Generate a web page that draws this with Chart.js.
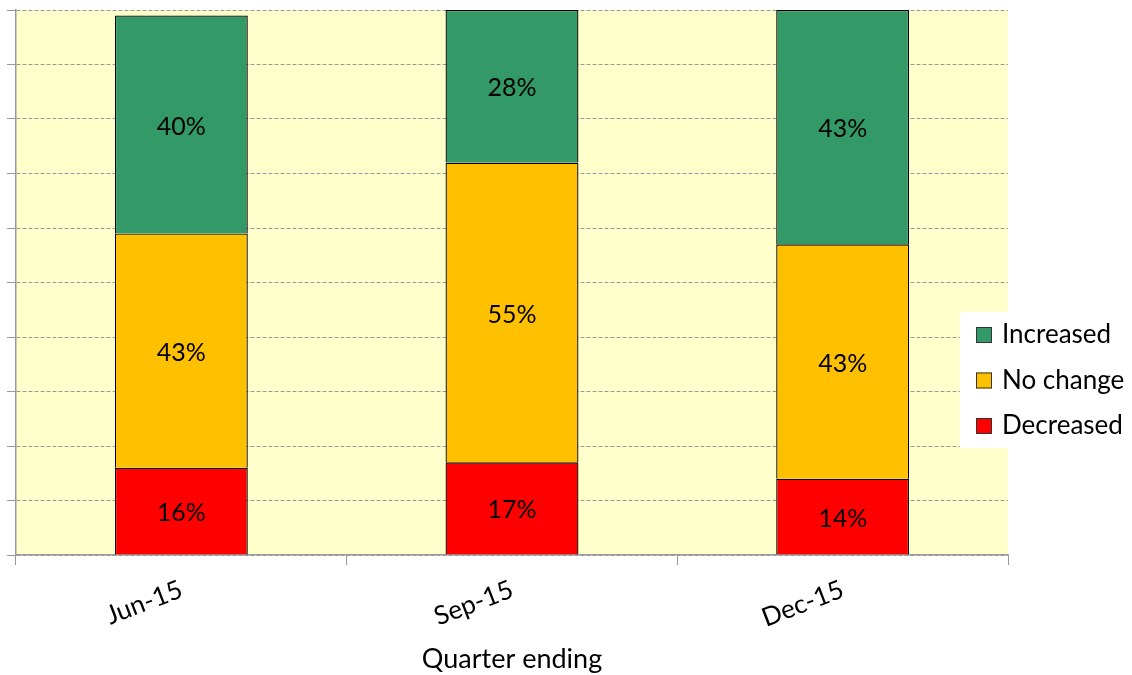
<!DOCTYPE html>
<html><head><meta charset="utf-8">
<script src="https://cdn.jsdelivr.net/npm/chart.js@4.4.1/dist/chart.umd.min.js"></script>
<style>html,body{margin:0;padding:0;background:#fff;}#wrap{width:1132px;height:675px;position:relative;}</style>
</head><body><div id="wrap"><canvas id="c" width="1132" height="675"></canvas></div>
<script>
const categories = ['Jun-15', 'Sep-15', 'Dec-15'];
const decreased = [16, 17, 14];
const noChange = [43, 55, 43];
const increased = [40, 28, 43];
const seriesNames = ['Decreased', 'No change', 'Increased'];
const seriesColors = ['#FF0000', '#FFC000', '#339966'];
const xTitle = 'Quarter ending';
const FONT = 'Lato';

const plotBg = {
  id: 'plotBg',
  beforeDraw(chart) {
    const {ctx, chartArea: a} = chart;
    ctx.save();
    ctx.fillStyle = '#FFFFCC';
    ctx.fillRect(a.left, a.top, a.right - a.left, a.bottom - a.top);
    ctx.restore();
  }
};

const segLabels = {
  id: 'segLabels',
  afterDatasetsDraw(chart) {
    const ctx = chart.ctx;
    ctx.save();
    ctx.font = '25px ' + FONT;
    ctx.fillStyle = '#000';
    ctx.textAlign = 'center';
    ctx.textBaseline = 'middle';
    chart.data.datasets.forEach((ds, di) => {
      const meta = chart.getDatasetMeta(di);
      meta.data.forEach((el, i) => {
        const p = el.getProps(['x', 'y', 'base'], true);
        ctx.fillText(ds.data[i] + '%', p.x, (p.y + p.base) / 2 + 2);
      });
    });
    ctx.restore();
  }
};

const boxLegend = {
  id: 'boxLegend',
  afterDraw(chart) {
    const ctx = chart.ctx;
    const x0 = chart.width - 172, y0 = 312;
    ctx.save();
    ctx.fillStyle = '#fff';
    ctx.fillRect(x0, y0, 172, 136);
    ctx.font = '26px ' + FONT;
    ctx.textBaseline = 'middle';
    ctx.textAlign = 'left';
    const n = chart.data.datasets.length;
    for (let k = 0; k < n; k++) {
      const di = n - 1 - k;
      const ds = chart.data.datasets[di];
      const cy = y0 + 23 + k * 45.5;
      ctx.fillStyle = ds.backgroundColor;
      ctx.fillRect(x0 + 16, cy - 8, 16, 16);
      ctx.strokeStyle = '#333';
      ctx.lineWidth = 1;
      ctx.strokeRect(x0 + 16.5, cy - 7.5, 15, 15);
      ctx.fillStyle = '#000';
      ctx.fillText(ds.label, x0 + 42, cy);
    }
    ctx.restore();
  }
};

const seriesData = [decreased, noChange, increased];
new Chart(document.getElementById('c'), {
  type: 'bar',
  data: {
    labels: categories,
    datasets: seriesData.map((d, i) => ({
      label: seriesNames[i],
      data: d,
      backgroundColor: seriesColors[i],
      borderColor: '#000',
      borderWidth: 1.3,
      categoryPercentage: 1,
      barPercentage: 0.402
    }))
  },
  options: {
    responsive: false,
    animation: false,
    devicePixelRatio: 1,
    layout: {padding: {left: 7, top: 10, right: 124, bottom: 0}},
    plugins: {legend: {display: false}, tooltip: {enabled: false}, title: {display: false}},
    scales: {
      x: {
        stacked: true,
        offset: true,
        grid: {display: true, drawOnChartArea: false, drawTicks: true, tickLength: 10, color: '#999', offset: true},
        border: {display: true, color: '#999', width: 1.5},
        ticks: {color: '#000', font: {family: FONT, size: 26}, minRotation: 21, maxRotation: 21, padding: 9},
        title: {display: true, text: xTitle, color: '#000', font: {family: FONT, size: 27, lineHeight: 1.2}, padding: {top: 0, bottom: 0}},
        afterFit(s) { s.height = 120; }
      },
      y: {
        stacked: true,
        min: 0, max: 100,
        grid: {color: '#9a9a9a', lineWidth: 1, drawTicks: true, tickLength: 9, tickColor: '#999', tickBorderDash: []},
        border: {display: true, color: '#999', width: 1.5, dash: [4, 2]},
        ticks: {display: false, stepSize: 10},
        afterFit(s) { s.width = 9; }
      }
    }
  },
  plugins: [plotBg, segLabels, boxLegend]
});
</script></body></html>
